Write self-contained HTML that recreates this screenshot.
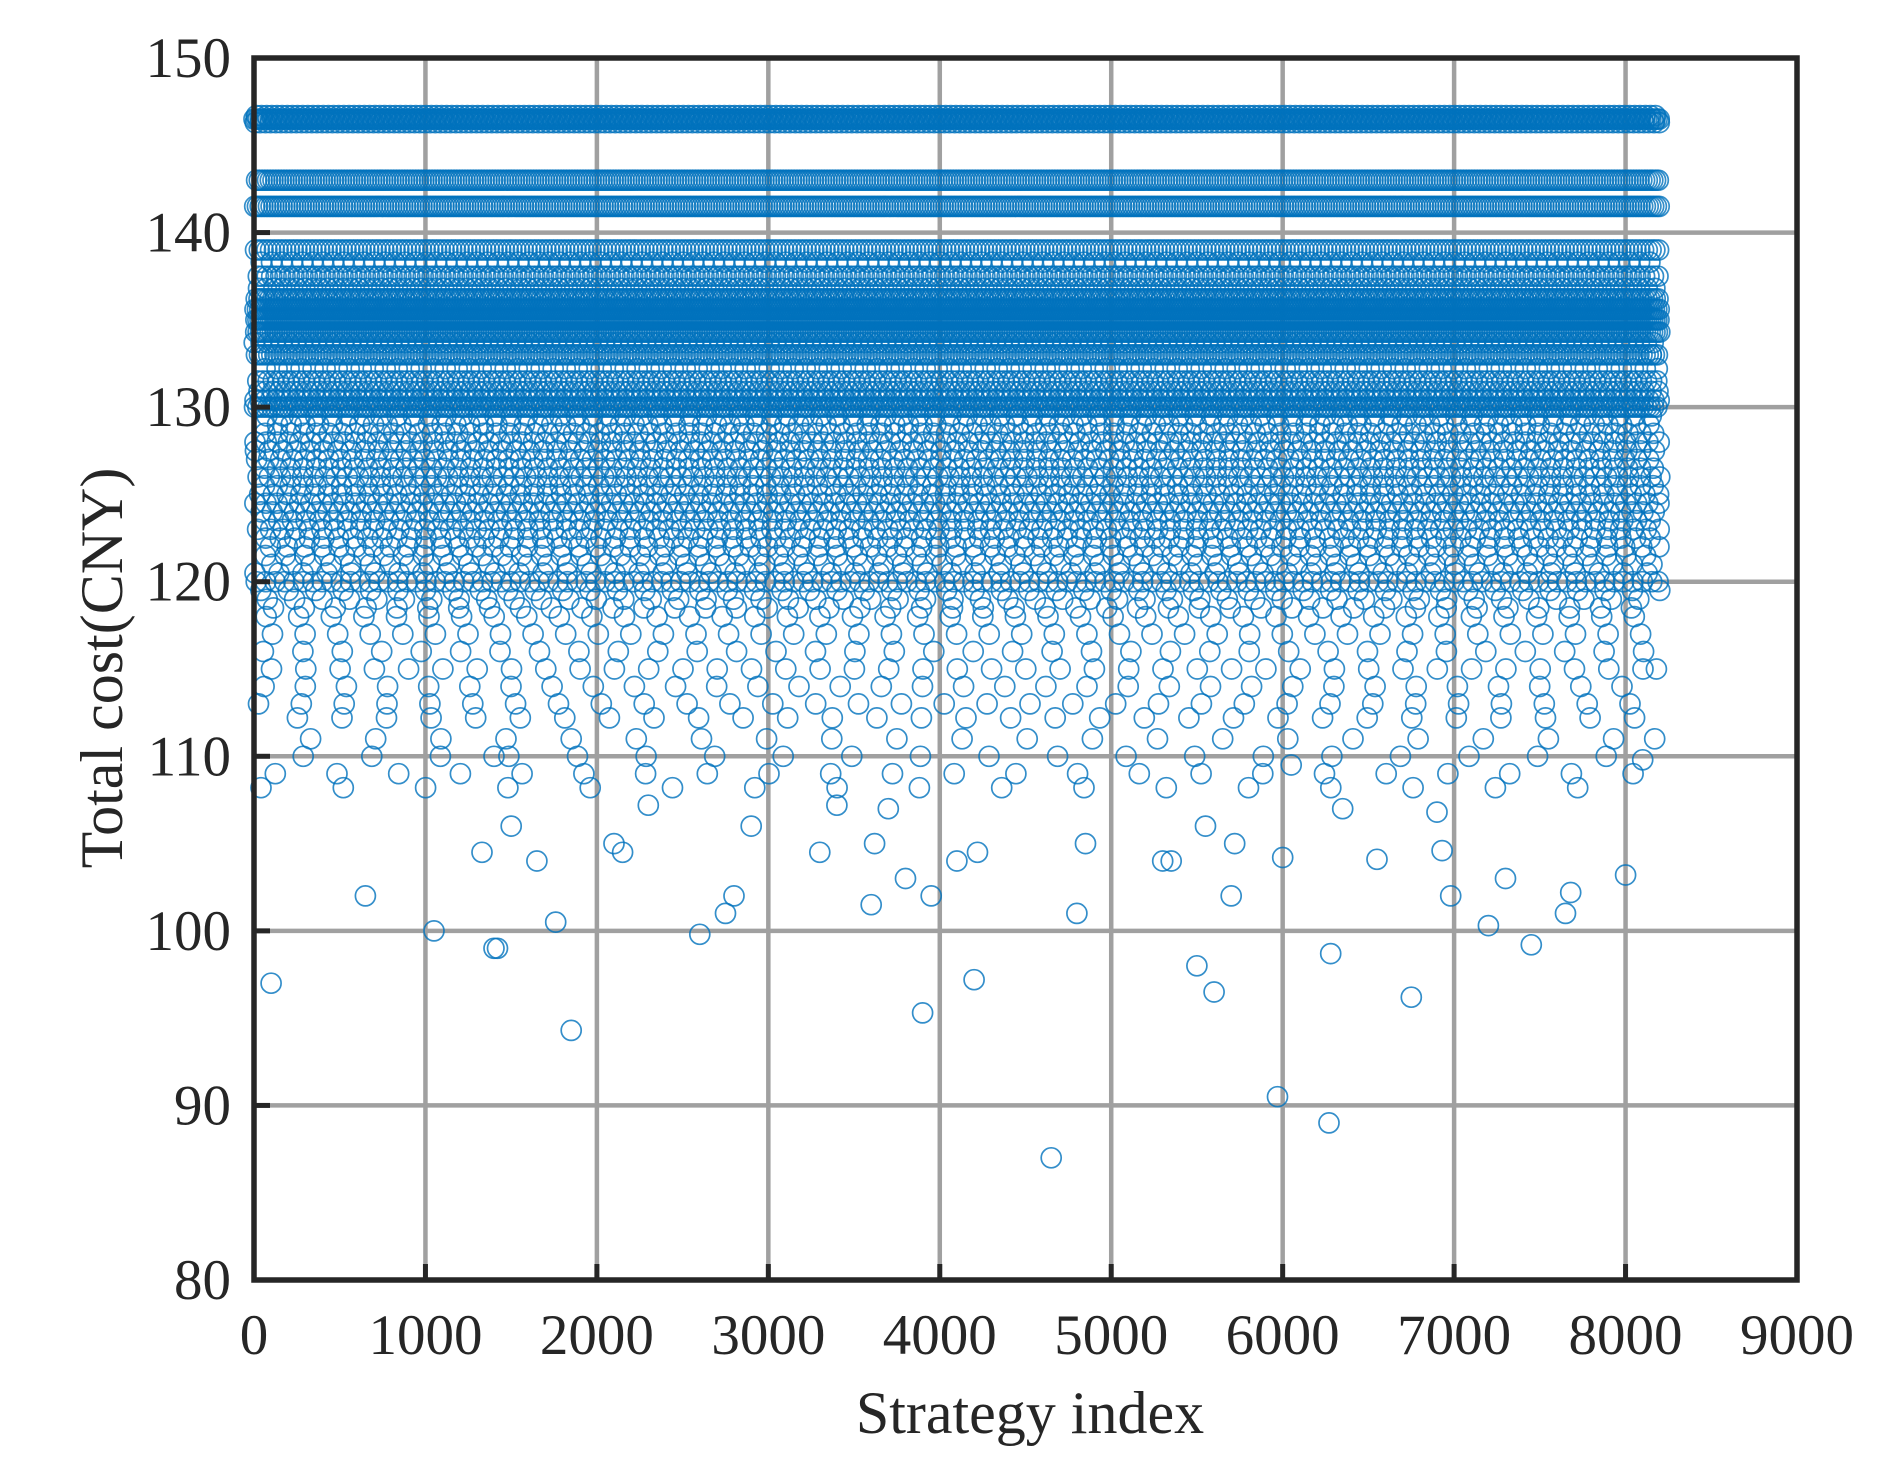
<!DOCTYPE html>
<html><head><meta charset="utf-8"><style>
html,body{margin:0;padding:0;background:#fff}
svg{display:block}
text{font-family:"Liberation Serif",serif;fill:#262626}
</style></head><body>
<svg id="chart" width="1895" height="1480" xmlns="http://www.w3.org/2000/svg">
<rect x="0" y="0" width="1895" height="1480" fill="#fff"/>
<g id="grid"></g>
<g id="marks"></g>
<g id="axes"></g>
<text x="1030" y="1433" font-size="60" text-anchor="middle">Strategy index</text>
<text x="0" y="0" font-size="60" text-anchor="middle" transform="translate(122,668) rotate(-90)">Total cost(CNY)</text>
</svg>
<script>
// band rows: cost level and spacing of strategies along the row (density)
const bandLevels = [146.5,146.3,146.7,143,141.5,139,138.3,137.5,136.8,136.2,135.6,135,134.3,133.7,133,132.2,131.5,130.9,130.4,130,129.5,129,128.5,128,127.5,127,126.5,126,125.5,125,124.5,124,123.5,123,122.5,122,121.5,121,120.5,120,119.5,119,118.5,118,117,116,115,114,113,112.2,111,110,109,108.2];
const bandSteps  = [12,30,30,16,16,22,60,26,45,16,14,12,14,40,18,70,30,40,30,20,95,80,75,65,80,70,75,65,75,80,65,65,80,75,85,100,115,115,140,55,160,160,180,190,190,230,200,240,250,260,380,400,360,480];
// individual outlier strategies
const outX = [100,650,1050,1400,1420,1850,1760,2600,2750,2800,3600,3900,3950,3800,4200,4650,4800,5500,5600,5700,5970,6270,6280,6750,6980,7200,7300,7450,7650,7680,8000,1330,1650,2100,2150,2900,3300,3620,4100,4220,4850,5300,5350,5550,5720,6000,6550,6930,1500,1400,3400,3700,2300,6350,6900,8100,6050,8170,8180,8190,8200,8150];
const outY = [97,102,100,99,99,94.3,100.5,99.8,101,102,101.5,95.3,102,103,97.2,87,101,98,96.5,102,90.5,89,98.7,96.2,102,100.3,103,99.2,101,102.2,103.2,104.5,104,105,104.5,106,104.5,105,104,104.5,105,104,104,106,105,104.2,104.1,104.6,106,110,107.2,107,107.2,107,106.8,109.8,109.5,111,115,120,126,133];
const xTicks = [0,1000,2000,3000,4000,5000,6000,7000,8000,9000];
const yTicks = [80,90,100,110,120,130,140,150];
const nStrategies = 8200;

const L=254,R=1797,T=58,B=1280;
const xS=v=>L+(v/9000)*(R-L);
const yS=v=>B-((v-80)/70)*(B-T);
const NS="http://www.w3.org/2000/svg";
function mk(tag,parent){const e=document.createElementNS(NS,tag);parent.appendChild(e);return e;}
const grid=document.getElementById('grid'),marks=document.getElementById('marks'),axes=document.getElementById('axes');

xTicks.forEach(t=>{
  const l=mk('line',grid);
  
  
  l.setAttribute('x1',xS(t));l.setAttribute('x2',xS(t));l.setAttribute('y1',T);l.setAttribute('y2',B);
  l.setAttribute('stroke','#a0a0a0');l.setAttribute('stroke-width','4.5');
  const tx=mk('text',axes);
  
  
  tx.setAttribute('x',xS(t));tx.setAttribute('y',1354);tx.setAttribute('font-size','57');tx.setAttribute('text-anchor','middle');
  tx.textContent=t;
  const tk=mk('line',axes);
  
  
  tk.setAttribute('x1',xS(t));tk.setAttribute('x2',xS(t));tk.setAttribute('y1',B);tk.setAttribute('y2',B-16);
  tk.setAttribute('stroke','#262626');tk.setAttribute('stroke-width','5');
});
yTicks.forEach(t=>{
  const l=mk('line',grid);
  
  
  l.setAttribute('x1',L);l.setAttribute('x2',R);l.setAttribute('y1',yS(t));l.setAttribute('y2',yS(t));
  l.setAttribute('stroke','#a0a0a0');l.setAttribute('stroke-width','4.5');
  const tx=mk('text',axes);
  
  
  tx.setAttribute('x',231);tx.setAttribute('y',yS(t)+19);tx.setAttribute('font-size','57');tx.setAttribute('text-anchor','end');
  tx.textContent=t;
  const tk=mk('line',axes);
  
  
  tk.setAttribute('x1',L);tk.setAttribute('x2',L+16);tk.setAttribute('y1',yS(t));tk.setAttribute('y2',yS(t));
  tk.setAttribute('stroke','#262626');tk.setAttribute('stroke-width','5');
});
const fr=mk('rect',axes);


fr.setAttribute('x',L);fr.setAttribute('y',T);fr.setAttribute('width',R-L);fr.setAttribute('height',B-T);
fr.setAttribute('fill','none');fr.setAttribute('stroke','#262626');fr.setAttribute('stroke-width','5.5');

let html='';
bandLevels.forEach((lv,i)=>{
  const st=bandSteps[i];
  const off=(i*37)%st;
  for(let s=off;s<=nStrategies;s+=st){
    html+=`<circle cx="${xS(s).toFixed(1)}" cy="${yS(lv).toFixed(1)}" r="10"/>`;
  }
});
outX.forEach((x,i)=>{
  html+=`<circle cx="${xS(x).toFixed(1)}" cy="${yS(outY[i]).toFixed(1)}" r="10"/>`;
});
marks.setAttribute('fill','none');
marks.setAttribute('stroke','#0072BD');
marks.setAttribute('stroke-width','1.7');
marks.setAttribute('stroke-opacity','0.8');
marks.innerHTML=html;
</script>
</body></html>
